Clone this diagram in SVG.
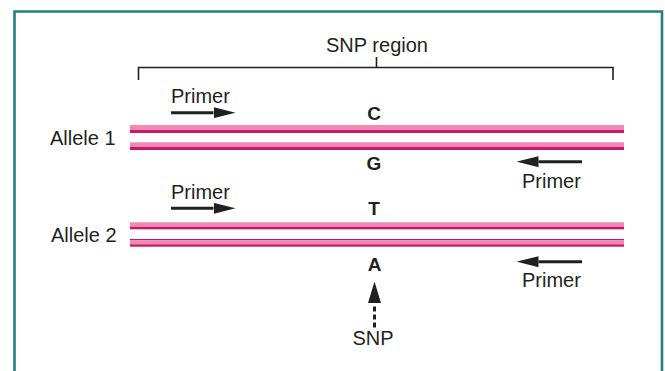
<svg xmlns="http://www.w3.org/2000/svg" width="665" height="371" viewBox="0 0 665 371">
<style>
  .lbl{font-family:"Liberation Sans",Arial,sans-serif;font-size:20px;fill:#231f20}
  .base{font-family:"Liberation Sans",Arial,sans-serif;font-size:19px;font-weight:bold;fill:#231f20;text-anchor:middle}
  .pink{fill:#f389b0}
  .dark{fill:#c9176f}
  .arr{stroke:#231f20;stroke-width:3;fill:none}
  .brk{stroke:#231f20;stroke-width:1.6;fill:none}
</style>
<defs>
  <marker id="head" viewBox="0 0 22 11" refX="0" refY="5.5" markerWidth="22" markerHeight="11" markerUnits="userSpaceOnUse" orient="auto">
    <path d="M0,0 L22,5.5 L0,11 Z" fill="#231f20"/>
  </marker>
</defs>
<rect width="665" height="371" fill="#ffffff"/>
<path d="M14.5,371 V11.5 H662 V371" fill="none" stroke="#237f80" stroke-width="2.6"/>

<g id="snp-region">
  <text class="lbl" x="377" y="52" text-anchor="middle">SNP region</text>
  <path class="brk" d="M138.5,80 V67.5 H613 V80 M376.5,57 V67.5"/>
</g>

<g id="allele1">
  <text class="lbl" x="50" y="145">Allele 1</text>
  <rect class="pink" x="130" y="125" width="494" height="5"/>
  <rect class="dark" x="130" y="130" width="494" height="3"/>
  <rect class="pink" x="130" y="142.3" width="494" height="4.7"/>
  <rect class="dark" x="130" y="147" width="494" height="3"/>
</g>

<g id="allele2">
  <text class="lbl" x="51" y="242">Allele 2</text>
  <rect class="pink" x="130" y="222.3" width="494" height="4.4"/>
  <rect class="dark" x="130" y="226.7" width="494" height="2.6"/>
  <rect class="dark" x="130" y="239" width="494" height="1.3"/>
  <rect class="pink" x="130" y="240.3" width="494" height="4"/>
  <rect class="dark" x="130" y="244.3" width="494" height="2.4"/>
</g>

<g id="bases">
  <text class="base" x="374" y="119.5">C</text>
  <text class="base" x="374" y="169.5">G</text>
  <text class="base" x="374" y="215">T</text>
  <text class="base" x="374.5" y="270.5">A</text>
</g>

<g id="primer1f"><text class="lbl" x="171" y="103">Primer</text></g>
<g id="primer1r"><text class="lbl" x="522" y="188">Primer</text></g>
<g id="primer2f"><text class="lbl" x="171" y="199">Primer</text></g>
<g id="primer2r"><text class="lbl" x="522" y="287">Primer</text></g>
<g id="snp"><text class="lbl" x="373" y="345" text-anchor="middle">SNP</text></g>

<g id="connectors">
  <line class="arr" x1="171" y1="112.7" x2="213.5" y2="112.7" marker-end="url(#head)"/>
  <line class="arr" x1="171" y1="208.3" x2="213.5" y2="208.3" marker-end="url(#head)"/>
  <line class="arr" x1="582" y1="161.7" x2="538.5" y2="161.7" marker-end="url(#head)"/>
  <line class="arr" x1="582" y1="261.7" x2="538.5" y2="261.7" marker-end="url(#head)"/>
  <path d="M374.5,281.5 L381,303 L368,303 Z" fill="#231f20"/>
  <line class="arr" x1="374.5" y1="306.5" x2="374.5" y2="327.5" stroke-dasharray="5 3"/>
</g>
</svg>
